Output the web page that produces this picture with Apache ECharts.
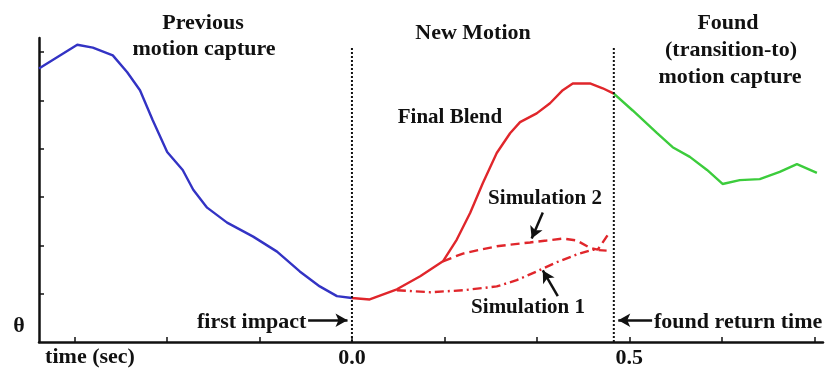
<!DOCTYPE html>
<html>
<head>
<meta charset="utf-8">
<script src="https://cdn.jsdelivr.net/npm/echarts@6/dist/echarts.min.js"></script>
<style>
html,body{margin:0;padding:0;background:#fff;}
#chart{width:827px;height:369px;}
</style>
</head>
<body>
<div id="chart"></div>
<script>
// ---- data (time in sec, joint angle theta in tick units) ----
var prevT = [-0.564,-0.495,-0.467,-0.431,-0.405,-0.382,-0.359,-0.333,-0.305,-0.286,-0.261,-0.225,-0.178,-0.135,-0.094,-0.058,-0.027,0.0];
var prevV = [5.66,6.15,6.09,5.93,5.58,5.21,4.59,3.93,3.56,3.15,2.78,2.47,2.18,1.87,1.46,1.15,0.95,0.91];

var blendT = [0.0,0.032,0.081,0.123,0.164,0.189,0.213,0.236,0.261,0.285,0.303,0.333,0.357,0.380,0.398,0.429,0.452,0.472];
var blendV = [0.91,0.88,1.09,1.36,1.67,2.12,2.67,3.29,3.91,4.32,4.55,4.73,4.94,5.21,5.35,5.35,5.25,5.14];

var sim2T = [0.164,0.200,0.231,0.261,0.290,0.321,0.351,0.380,0.405,0.429,0.443,0.465];
var sim2V = [1.67,1.83,1.91,1.98,2.02,2.06,2.10,2.14,2.10,1.95,1.91,2.28];

var sim1T = [0.081,0.141,0.200,0.261,0.297,0.333,0.369,0.405,0.434,0.459];
var sim1V = [1.07,1.03,1.07,1.15,1.28,1.46,1.65,1.81,1.91,1.89];

var foundT = [0.472,0.506,0.550,0.578,0.609,0.640,0.668,0.699,0.735,0.771,0.802,0.838];
var foundV = [5.14,4.79,4.32,4.03,3.83,3.56,3.27,3.35,3.37,3.52,3.68,3.50];

var boundaryT = [0.0, 0.472];      // first impact, found return time
var boundaryTop = 6.1;

var xTicks = [-0.5,-1/3,-1/6,0,1/6,1/3,0.5,2/3,5/6];
var xTickLabels = [0, 0.5];
var yTicks = [1,2,3,4,5,6];

function pairs(t, v){ return t.map(function(x,i){ return [x, v[i]]; }); }

var FONT = 'Liberation Serif';
var txt = function(s, x, y, size, align){
  return {type:'text', x:x, y:y, style:{text:s, x:0, y:0, fill:'#111', font:'bold '+size+'px "'+FONT+'"', align:align||'center', verticalAlign:'middle'}};
};

var chart = echarts.init(document.getElementById('chart'));
var series = [
  {type:'line', data:pairs(prevT, prevV), symbol:'none', lineStyle:{color:'#3333c4', width:2.4}, z:3},
  {type:'line', data:pairs(sim2T, sim2V), symbol:'none', lineStyle:{color:'#e0262b', width:2.4, type:[9,5]}, z:3},
  {type:'line', data:pairs(sim1T, sim1V), symbol:'none', lineStyle:{color:'#e0262b', width:2.4, type:[9,4,2,4]}, z:3},
  {type:'line', data:pairs(blendT, blendV), symbol:'none', lineStyle:{color:'#e0262b', width:2.4}, z:4},
  {type:'line', data:pairs(foundT, foundV), symbol:'none', lineStyle:{color:'#3ccc3c', width:2.4}, z:3}
];
boundaryT.forEach(function(b){
  series.push({type:'line', data:[[b,0],[b,boundaryTop]], symbol:'none', lineStyle:{color:'#111', width:2, type:[2,2]}, z:5});
});
// annotation arrows (data coordinates)
series.push({type:'line', data:[], symbol:'none', z:6,
  markLine:{silent:true, symbol:['none','arrow'], symbolSize:[10,12], label:{show:false},
    lineStyle:{color:'#111', width:2.5, type:'solid'},
    data:[
      [{coord:[-0.079,0.45]},{coord:[-0.008,0.45]}],
      [{coord:[0.541,0.45]},{coord:[0.480,0.45]}],
      [{coord:[0.344,2.68]},{coord:[0.324,2.14]}],
      [{coord:[0.371,0.95]},{coord:[0.344,1.48]}]
    ]}
});

chart.setOption({
  animation:false,
  backgroundColor:'#fff',
  grid:{left:39, right:4, top:38, bottom:26},
  xAxis:{type:'value', min:-0.564, max:0.849,
    axisLine:{show:true, onZero:false, lineStyle:{color:'#111', width:2.5}},
    axisTick:{show:true, inside:true, length:5, lineStyle:{color:'#111', width:1.5}, customValues:xTicks},
    axisLabel:{show:true, customValues:xTickLabels, formatter:function(v){return v.toFixed(1);},
      color:'#111', fontFamily:FONT, fontWeight:'bold', fontSize:22, margin:5},
    splitLine:{show:false}},
  yAxis:{type:'value', min:0, max:6.29,
    axisLine:{show:true, onZero:false, lineStyle:{color:'#111', width:2.5}},
    axisTick:{show:true, inside:true, length:5, lineStyle:{color:'#111', width:1.5}, customValues:yTicks},
    axisLabel:{show:false},
    splitLine:{show:false}},
  series:series,
  graphic:[
    txt('Previous', 203, 23, 22),
    txt('motion capture', 204, 49, 22),
    txt('New Motion', 473, 33, 22),
    txt('Found', 728, 23, 22),
    txt('(transition-to)', 731, 50, 22),
    txt('motion capture', 730, 77, 22),
    txt('Final Blend', 450, 118, 21),
    txt('Simulation 2', 545, 199, 21),
    txt('Simulation 1', 528, 308, 21),
    txt('first impact', 197, 322, 22, 'left'),
    txt('found return time', 654, 322, 22, 'left'),
    txt('time (sec)', 90, 357, 22),
    txt('θ', 19, 326, 22)
  ]
});
</script>
</body>
</html>
